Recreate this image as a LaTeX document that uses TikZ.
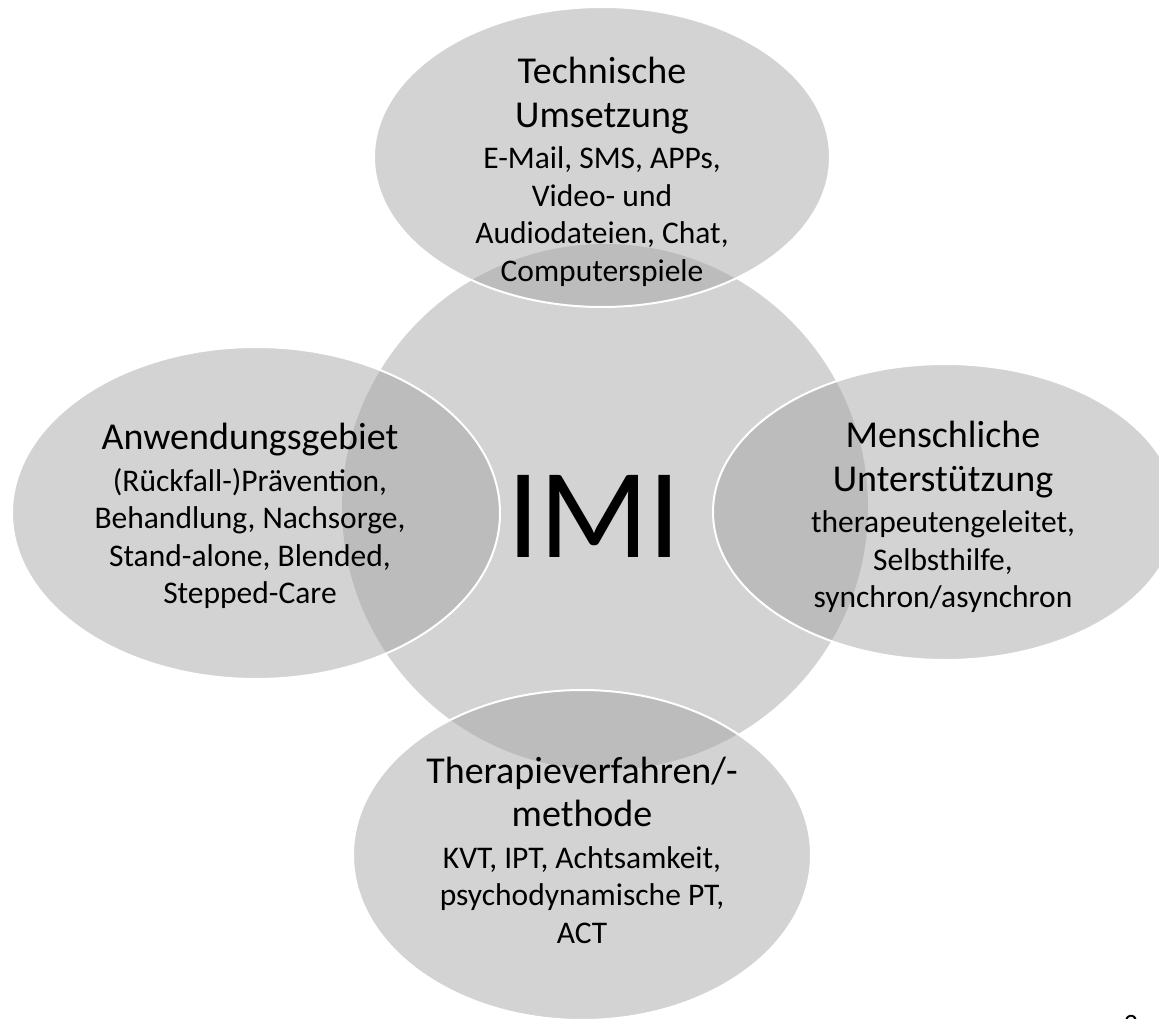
\documentclass[tikz,border=0pt]{standalone}
\usepackage{fontspec}
\setmainfont{Carlito}
\usepackage{tikz}
\usetikzlibrary{shapes.geometric}

\definecolor{petalgray}{gray}{0.64}
\tikzset{
  core/.style={circle, fill=petalgray, fill opacity=0.48, inner sep=0pt},
  petal/.style={ellipse, draw=white, line width=2pt, fill=petalgray, fill opacity=0.48, inner sep=0pt},
  lbl/.style={align=center, inner sep=0pt, font=\fontsize{31.5}{37.5}\selectfont}
}
\newcommand{\headline}[1]{{\fontsize{38}{46}\selectfont #1}}

\begin{document}
\begin{tikzpicture}[x=1pt, y=-1pt]
  \clip (0,0) rectangle (1159,1019);
  % centre
  \node[core, minimum size=526pt] (imi) at (605,507) {};
  \node[font=\fontsize{128}{154}\selectfont] (imitxt) at (594,516) {IMI};
  % the four areas round it
  \node[petal, minimum width=456pt, minimum height=300pt] (tech) at (602,157) {};
  \node[petal, minimum width=488pt, minimum height=332pt] (anw) at (256,513) {};
  \node[petal, minimum width=464pt, minimum height=296pt] (mensch) at (945,512) {};
  \node[petal, minimum width=458pt, minimum height=330pt] (thera) at (582,855) {};
  % labels
  \node[lbl] (techtxt) at (602,172) {\headline{Technische}\\[6pt]\headline{Umsetzung}\\[4pt]E-Mail, SMS, APPs,\\Video- und\\Audiodateien, Chat,\\Computerspiele};
  \node[lbl] (anwtxt) at (250,516) {\headline{Anwendungsgebiet}\\[4pt](Rückfall-)Prävention,\\Behandlung, Nachsorge,\\Stand-alone, Blended,\\Stepped-Care};
  \node[lbl] (menschtxt) at (943,517) {\headline{Menschliche}\\[6pt]\headline{Unterstützung}\\[4pt]therapeutengeleitet,\\Selbsthilfe,\\synchron/asynchron};
  \node[lbl] (theratxt) at (582,850) {\headline{Therapieverfahren/-}\\[6pt]\headline{methode}\\[4pt]KVT, IPT, Achtsamkeit,\\psychodynamische PT,\\ACT};
  % page number, cut at the lower edge
  \node[anchor=north, inner sep=0pt, font=\fontsize{28}{34}\selectfont] (pagenum) at (1131,1015) {2};
\end{tikzpicture}
\end{document}
